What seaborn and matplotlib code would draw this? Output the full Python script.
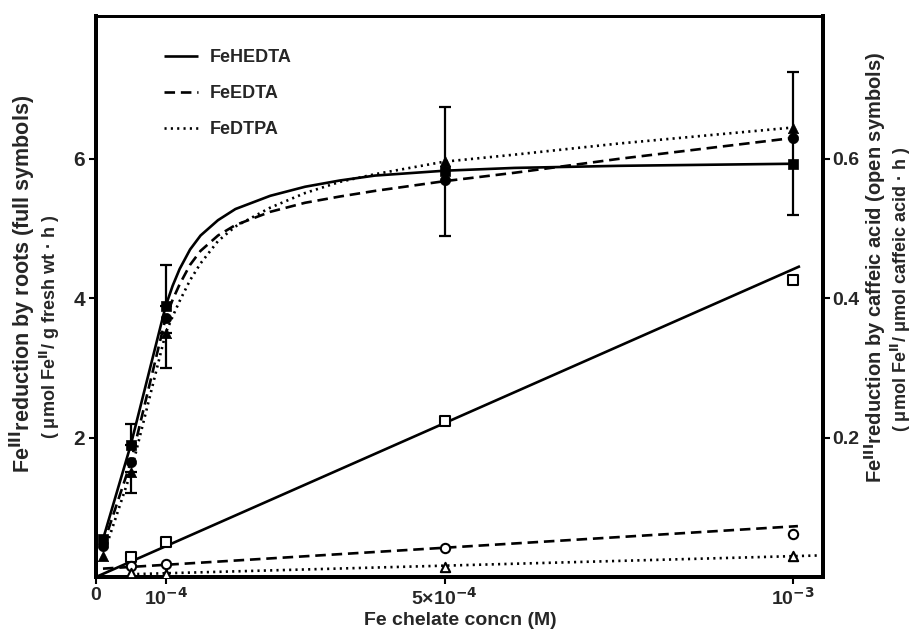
import numpy as np
import pandas as pd
import matplotlib
matplotlib.use("Agg")
import matplotlib.pyplot as plt
import seaborn as sns
from matplotlib.lines import Line2D

# ---------------- data ----------------
x_conc = [1e-5, 5e-5, 1e-4, 5e-4, 1e-3]
hedta_roots = [0.54, 1.9, 3.89, 5.83, 5.93]
edta_roots = [0.45, 1.65, 3.72, 5.70, 6.30]
dtpa_roots = [0.30, 1.50, 3.50, 5.97, 6.45]

# smooth curves drawn through the root data
curve_x = [1e-5, 5e-5, 1e-4, 1.1e-4, 1.2e-4, 1.35e-4, 1.5e-4, 1.75e-4, 2e-4, 2.5e-4,
           3e-4, 3.5e-4, 4e-4, 5e-4, 6e-4, 7.5e-4, 1e-3]
hedta_curve = [0.54, 1.9, 3.89, 4.18, 4.42, 4.70, 4.90, 5.12, 5.28, 5.47,
               5.60, 5.69, 5.76, 5.83, 5.87, 5.90, 5.93]
edta_curve = [0.45, 1.65, 3.72, 3.98, 4.20, 4.48, 4.68, 4.90, 5.05, 5.24,
              5.37, 5.46, 5.54, 5.68, 5.80, 6.00, 6.30]
dtpa_curve = [0.30, 1.50, 3.50, 3.74, 3.96, 4.26, 4.50, 4.82, 5.03, 5.30,
              5.51, 5.67, 5.78, 5.96, 6.06, 6.22, 6.45]

# error bars (roots)
err_x = [5e-5, 5e-5, 1e-4, 1e-4, 5e-4, 1e-3]
err_lo = [1.90, 1.20, 3.89, 3.00, 4.90, 5.20]
err_hi = [2.20, 1.50, 4.48, 3.50, 6.75, 7.25]

# caffeic acid (open symbols, right axis)
x_caff = [5e-5, 1e-4, 5e-4, 1e-3]
hedta_caff = [0.029, 0.050, 0.224, 0.426]
edta_caff = [0.016, 0.019, 0.041, 0.062]
dtpa_caff = [0.006, 0.004, 0.015, 0.030]

hedta_fit_x = [0.0, 1.01e-3]
hedta_fit = [0.0, 0.446]
edta_fit_x = [1e-5, 1.007e-3]
edta_fit = [0.012, 0.073]
dtpa_fit_x = [5e-5, 1.04e-3]
dtpa_fit = [0.004, 0.031]

series = ["FeHEDTA", "FeEDTA", "FeDTPA"]
x_ticks = [0, 1e-4, 5e-4, 1e-3]
x_ticklabels = ["0", r"10$^{-4}$", r"5×10$^{-4}$", r"10$^{-3}$"]
left_ticks = [2, 4, 6]
right_ticks = [0.2, 0.4, 0.6]

# ---------------- style ----------------
sns.set_theme(style="white")
plt.rcParams["font.family"] = ["Liberation Sans", "DejaVu Sans"]
plt.rcParams["font.weight"] = "bold"
plt.rcParams["mathtext.default"] = "bf"

styles = {"FeHEDTA": (0, ()), "FeEDTA": (0, (4, 2.2)), "FeDTPA": (0, (0.8, 1.6))}
mk_full = {"FeHEDTA": "s", "FeEDTA": "o", "FeDTPA": "^"}
LW = 1.9

fig = plt.figure(figsize=(9.2, 6.33), dpi=100)
ax = fig.add_axes([96 / 920, 56 / 633, (823 - 96) / 920, (577 - 16) / 633])
ax2 = ax.twinx()

# curves
curve_df = pd.DataFrame({
    "x": curve_x * 3,
    "y": hedta_curve + edta_curve + dtpa_curve,
    "chelate": ["FeHEDTA"] * len(curve_x) + ["FeEDTA"] * len(curve_x) + ["FeDTPA"] * len(curve_x),
})
for name in series:
    d = curve_df[curve_df["chelate"] == name]
    sns.lineplot(data=d, x="x", y="y", ax=ax, color="black", lw=LW,
                 linestyle=styles[name], legend=False)

root_vals = {"FeHEDTA": hedta_roots, "FeEDTA": edta_roots, "FeDTPA": dtpa_roots}
for name in series:
    d = pd.DataFrame({"x": x_conc, "y": root_vals[name]})
    sns.scatterplot(data=d, x="x", y="y", ax=ax, marker=mk_full[name], s=55,
                    color="black", edgecolor="black", linewidth=0.5, zorder=5, legend=False)

mid = [(l + h) / 2 for l, h in zip(err_lo, err_hi)]
half = [(h - l) / 2 for l, h in zip(err_lo, err_hi)]
ax.errorbar(err_x, mid, yerr=half, fmt="none", ecolor="black", elinewidth=1.6,
            capsize=4.5, capthick=1.6, zorder=4)

# caffeic acid
fits = {"FeHEDTA": (hedta_fit_x, hedta_fit), "FeEDTA": (edta_fit_x, edta_fit),
        "FeDTPA": (dtpa_fit_x, dtpa_fit)}
caff = {"FeHEDTA": hedta_caff, "FeEDTA": edta_caff, "FeDTPA": dtpa_caff}
for name in series:
    fx, fy = fits[name]
    d = pd.DataFrame({"x": fx, "y": fy})
    sns.lineplot(data=d, x="x", y="y", ax=ax2, color="black", lw=LW,
                 linestyle=styles[name], legend=False)
    d2 = pd.DataFrame({"x": x_caff, "y": caff[name]})
    sns.scatterplot(data=d2, x="x", y="y", ax=ax2, marker=mk_full[name], s=45,
                    facecolor="white", edgecolor="black", linewidth=1.5, zorder=5, legend=False)

# axes
ax.set_xlim(0, 1.043e-3)
ax.set_ylim(0, 8.05)
ax2.set_ylim(0, 0.805)
ax.set_xticks(x_ticks)
ax.set_xticklabels(x_ticklabels, fontsize=14, fontweight="bold")
ax.set_yticks(left_ticks)
ax.set_yticklabels([str(t) for t in left_ticks], fontsize=15, fontweight="bold")
ax2.set_yticks(right_ticks)
ax2.set_yticklabels([f"{t:.1f}" for t in right_ticks], fontsize=14, fontweight="bold")
ax.set_xlabel("")
ax.set_ylabel("")
ax2.set_ylabel("")
ax.tick_params(axis="both", direction="out", length=5, width=1.5, color="black", pad=3,
               bottom=True, left=True)
ax.tick_params(axis="x", pad=2)
ax2.tick_params(axis="y", direction="out", length=5, width=1.5, color="black", pad=2, right=True)

for a in (ax, ax2):
    for s in ["left", "bottom", "right"]:
        a.spines[s].set_linewidth(2.8)
        a.spines[s].set_color("black")
    a.spines["top"].set_linewidth(2.0)
    a.spines["top"].set_color("black")

# legend
handles = [Line2D([0], [0], color="black", lw=LW, linestyle=styles[n]) for n in series]
leg = ax.legend(handles, series, loc="upper left", bbox_to_anchor=(0.071, 0.97),
                frameon=False, handlelength=1.9, handletextpad=0.65, labelspacing=1.05,
                prop={"weight": "bold", "size": 13})

# axis labels
fig.text(0.5, 0.007, "Fe chelate concn (M)", ha="center", va="bottom", fontsize=14, fontweight="bold")
fig.text(0.025, 0.551, r"Fe$^{\mathbf{III}}$reduction by roots (full symbols)", rotation=90,
         ha="center", va="center", fontsize=15.5, fontweight="bold")
fig.text(0.054, 0.483, r"( μmol Fe$^{\mathbf{II}}$/ g fresh wt · h )", rotation=90,
         ha="center", va="center", fontsize=13, fontweight="bold")
fig.text(0.951, 0.578, r"Fe$^{\mathbf{III}}$reduction by caffeic acid (open symbols)", rotation=90,
         ha="center", va="center", fontsize=14.5, fontweight="bold")
fig.text(0.979, 0.543, r"( μmol Fe$^{\mathbf{II}}$/ μmol caffeic acid · h )", rotation=90,
         ha="center", va="center", fontsize=13, fontweight="bold")

fig.savefig("out.png", dpi=100)
